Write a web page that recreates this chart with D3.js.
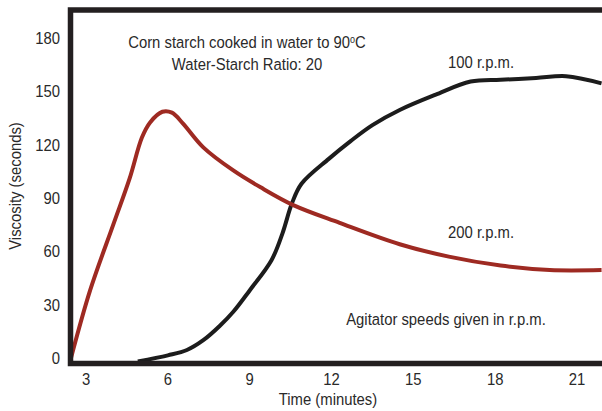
<!DOCTYPE html>
<html>
<head>
<meta charset="utf-8">
<script src="https://cdn.jsdelivr.net/npm/d3@7"></script>
<style>
  body { margin: 0; background: #fff; }
  svg text { font-family: "Liberation Sans", Arial, sans-serif; font-size: 16.5px; fill: #2a2a2a; }
</style>
</head>
<body>
<svg width="602" height="411"></svg>
<script>
// data
var xTicks = [3, 6, 9, 12, 15, 18, 21];
var yTicks = [0, 30, 60, 90, 120, 150, 180];

// 200 r.p.m. (red)
var time200 = [2.45, 3.15, 4.0, 4.6, 5.05, 5.35, 5.8, 6.15, 6.55, 7.3, 8.4, 9.4, 10.6, 12.3, 14.5, 16.3, 18.2, 20.0, 21.9];
var visc200 = [0, 38, 75, 101, 124, 132.5, 138.5, 138, 132, 118.5, 105.5, 96, 86, 76, 64, 57, 52, 49.5, 49.5];

// 100 r.p.m. (black)
var time100 = [4.9, 6.0, 6.7, 7.3, 7.9, 8.4, 9.0, 9.8, 10.2, 10.55, 10.9, 11.9, 12.7, 13.5, 14.5, 15.8, 17.1, 18.2, 19.5, 20.6, 21.9];
var visc100 = [-2, 1.5, 4.5, 10, 18, 26, 38, 55, 70, 87, 98, 112, 122, 131, 139.5, 148, 155.5, 156.5, 157.5, 158.5, 154.5];

var svg = d3.select("svg");

var x = d3.scaleLinear().domain([3, 21]).range([86, 577]);
var y = d3.scaleLinear().domain([0, 180]).range([358, 38]);

var line = d3.line()
    .x(function(d) { return x(d[0]); })
    .y(function(d) { return y(d[1]); })
    .curve(d3.curveCatmullRom.alpha(0.5));

// curves, clipped to the inside of the frame
svg.append("clipPath").attr("id", "plot")
  .append("rect").attr("x", 70).attr("y", 10).attr("width", 532).attr("height", 352);

var g = svg.append("g").attr("clip-path", "url(#plot)");

g.append("path")
  .datum(d3.zip(time100, visc100))
  .attr("d", line)
  .attr("fill", "none")
  .attr("stroke", "#1c1c1c")
  .attr("stroke-width", 4);

g.append("path")
  .datum(d3.zip(time200, visc200))
  .attr("d", line)
  .attr("fill", "none")
  .attr("stroke", "#9e2a22")
  .attr("stroke-width", 4);

// frame (top, left, bottom)
svg.append("path")
  .attr("d", "M602,10 H70.5 V363.5 H602")
  .attr("fill", "none")
  .attr("stroke", "#231f20")
  .attr("stroke-width", 5.5);

// condensed look: squeeze text horizontally
function label(px, py, str, anchor, rot) {
  return svg.append("text")
    .attr("transform", "translate(" + px + "," + py + ")" + (rot ? " rotate(" + rot + ")" : "") + " scale(0.9,1)")
    .attr("text-anchor", anchor || "middle")
    .text(str);
}

// tick labels
yTicks.forEach(function(d) { label(60, y(d) + 6, d, "end"); });
xTicks.forEach(function(d) { label(x(d), 385, d, "middle"); });

// axis titles
label(328, 405, "Time (minutes)");
label(21, 186, "Viscosity (seconds)", "middle", -90);

// annotations
var t1 = label(247, 48, "");
t1.append("tspan").text("Corn starch cooked in water to 90");
t1.append("tspan").attr("dy", -5).style("font-size", "10px").text("o");
t1.append("tspan").attr("dy", 5).text("C");

label(247, 70, "Water-Starch Ratio: 20");
label(481, 68, "100 r.p.m.");
label(481, 238, "200 r.p.m.");
label(446, 325, "Agitator speeds given in r.p.m.");
</script>
</body>
</html>
